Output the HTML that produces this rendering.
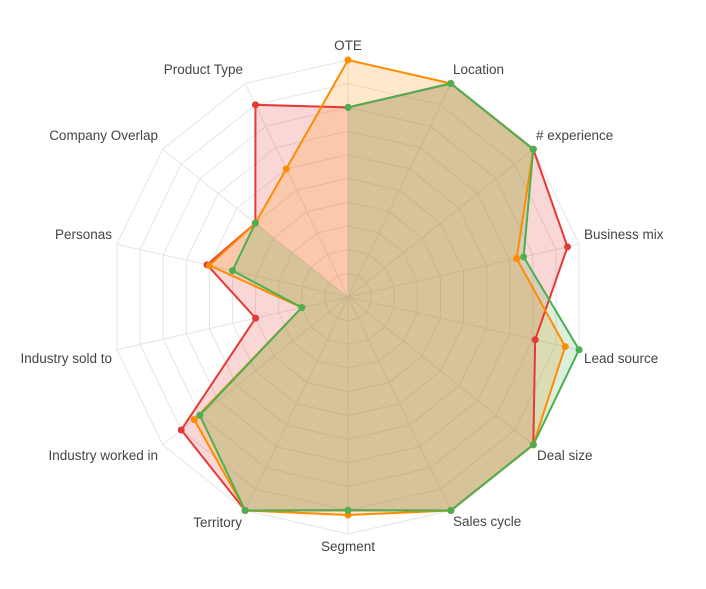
<!DOCTYPE html>
<html><head><meta charset="utf-8"><style>
html,body{margin:0;padding:0;background:#fff;}
svg{display:block;font-family:"Liberation Sans",Arial,sans-serif;}
</style></head><body>
<svg id="s" width="706" height="589" viewBox="0 0 706 589" xmlns="http://www.w3.org/2000/svg">
<g id="grid"></g><g id="data"></g>
<g font-size="13.5" fill="#444">
<text x="348" y="50" text-anchor="middle">OTE</text>
<text x="453" y="74">Location</text>
<text x="536" y="140"># experience</text>
<text x="584" y="239">Business mix</text>
<text x="584" y="363">Lead source</text>
<text x="537" y="460">Deal size</text>
<text x="453" y="526">Sales cycle</text>
<text x="348" y="551" text-anchor="middle">Segment</text>
<text x="242" y="527" text-anchor="end">Territory</text>
<text x="158" y="460" text-anchor="end">Industry worked in</text>
<text x="112" y="363" text-anchor="end">Industry sold to</text>
<text x="112" y="239" text-anchor="end">Personas</text>
<text x="158" y="140" text-anchor="end">Company Overlap</text>
<text x="243" y="74" text-anchor="end">Product Type</text>
</g>
</svg>
<script>
var cx=348,cy=297,R=237,N=14,NS="http://www.w3.org/2000/svg";
function pt(i,v){var a=i*2*Math.PI/N;return [cx+Math.sin(a)*R*v/10,cy-Math.cos(a)*R*v/10];}
function el(t,at,p){var e=document.createElementNS(NS,t);for(var k in at)e.setAttribute(k,at[k]);p.appendChild(e);return e;}
var g=document.getElementById('grid'),d=document.getElementById('data');
for(var r=1;r<=10;r++){var s=[];for(var i=0;i<N;i++)s.push(pt(i,r).join(','));el('polygon',{points:s.join(' '),fill:'none',stroke:'#e5e5e5','stroke-width':1},g);}
for(var i=0;i<N;i++){var p=pt(i,10);el('line',{x1:cx,y1:cy,x2:p[0],y2:p[1],stroke:'#e5e5e5','stroke-width':1},g);}
var series=[
 {c:'#e53935',f:'rgba(229,57,53,0.2)',v:[8,10,10,9.5,8.1,10,10,9,10,9,4,6.1,5,9]},
 {c:'#ff8c00',f:'rgba(255,140,0,0.2)',v:[10,10,10,7.3,9.4,10,10,9.2,10,8.3,2,6,5,6]},
 {c:'#4caf50',f:'rgba(76,175,80,0.2)',v:[8,10,10,7.6,10,10,10,9,10,8,2,5,5,null]}
];
series.forEach(function(s){
 var ps=s.v.map(function(v,i){return v===null?[cx,cy]:pt(i,v);});
 el('polygon',{points:ps.map(function(p){return p.join(',')}).join(' '),fill:s.f,stroke:'none'},d);
});
series.forEach(function(s){
 var segs=[],cur=[];
 for(var k=0;k<=N;k++){var v=s.v[k%N];if(v===null){if(cur.length)segs.push(cur);cur=[];}else cur.push(pt(k%N,v));}
 if(cur.length)segs.push(cur);
 segs.forEach(function(sg){el('polyline',{points:sg.map(function(p){return p.join(',')}).join(' '),fill:'none',stroke:s.c,'stroke-width':2},d);});
 s.v.forEach(function(v,i){if(v!==null){var p=pt(i,v);el('circle',{cx:p[0],cy:p[1],r:3.5,fill:s.c},d);}});
});
</script>
</body></html>
